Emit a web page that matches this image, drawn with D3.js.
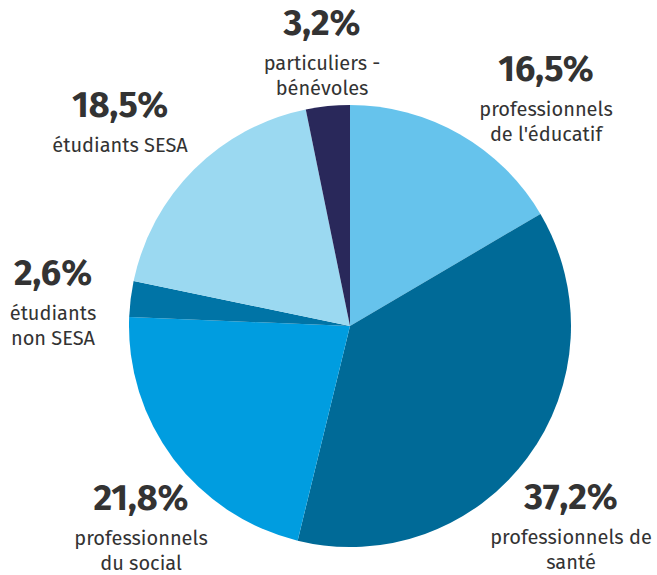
<!DOCTYPE html>
<html><head><meta charset="utf-8">
<script src="https://cdn.jsdelivr.net/npm/d3@7"></script>
<style>body{margin:0;background:#fff}svg{display:block}</style>
</head><body>
<svg id="c" width="657" height="575"></svg>
<script>
const categories = ["professionnels de l'éducatif","professionnels de santé","professionnels du social","étudiants non SESA","étudiants SESA","particuliers - bénévoles"];
const values = [16.5, 37.2, 21.8, 2.6, 18.5, 3.2];
const pctLabels = ["16,5%","37,2%","21,8%","2,6%","18,5%","3,2%"];
const nameLines = [["professionnels","de l'éducatif"],["professionnels de","santé"],["professionnels","du social"],["étudiants","non SESA"],["étudiants SESA"],["particuliers -","bénévoles"]];
const colors = ["#66c3ec","#006a97","#009de0","#0074a6","#9bd9f1","#29285a"];

// layout (label anchor positions, pixels)
const labelPos = [[546,81],[571,509],[141,510],[53,285],[120,117],[322,35]];

const svg = d3.select("#c");
const cx = 350, cy = 326, r = 221;
const pie = d3.pie().sort(null).value(d => d)(values);
const arc = d3.arc().innerRadius(0).outerRadius(r);
const g = svg.append("g").attr("transform",`translate(${cx},${cy})`);
g.selectAll("path").data(pie).join("path")
  .attr("d", arc).attr("fill",(d,i)=>colors[i]);

const font = "'Fira Sans','Open Sans','Noto Sans',sans-serif";
labelPos.forEach((p,i)=>{
  const t = svg.append("g").attr("transform",`translate(${p[0]},${p[1]})`);
  t.append("text").attr("text-anchor","middle").attr("font-family",font)
    .attr("font-weight","700").attr("font-size",36).attr("fill","#333")
    .text(pctLabels[i]);
  nameLines[i].forEach((ln,j)=>{
    t.append("text").attr("text-anchor","middle").attr("font-family",font)
      .attr("font-size",20).attr("fill","#333").attr("y",35+j*24.5).text(ln);
  });
});
</script>
</body></html>
